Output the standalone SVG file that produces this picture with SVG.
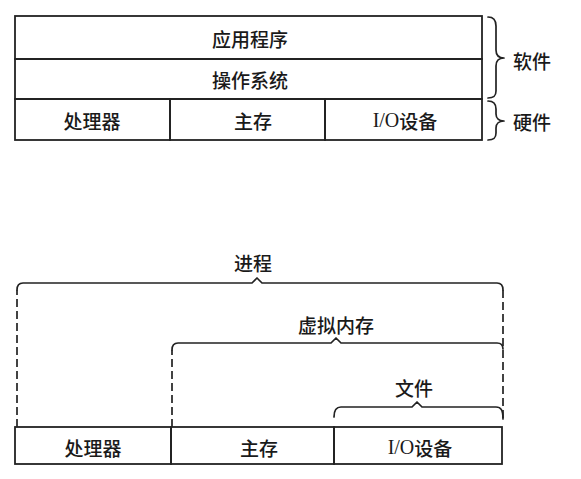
<svg xmlns="http://www.w3.org/2000/svg" width="581" height="479" viewBox="0 0 581 479">
<style>
.box{fill:none;stroke:#222;stroke-width:1.8}
.br{fill:none;stroke:#222;stroke-width:1.7;stroke-linecap:round;stroke-linejoin:round}
.dash{fill:none;stroke:#222;stroke-width:1.7;stroke-dasharray:8 4}
text{font-family:"Noto Sans CJK SC","Noto Sans",sans-serif;font-size:19px;font-weight:500;fill:#1a1a1a;text-anchor:middle;dominant-baseline:central}
.io{font-family:"Liberation Serif",serif;font-size:20px}
</style>
<rect width="581" height="479" fill="#fff"/>
<g id="top-stack">
  <g id="app"><rect class="box" x="15" y="16" width="467" height="43"/><text x="250" y="38">应用程序</text></g>
  <g id="os"><rect class="box" x="15" y="59" width="467" height="40"/><text x="250" y="79">操作系统</text></g>
  <g id="cpu1"><rect class="box" x="15" y="99" width="155" height="41"/><text x="92" y="120">处理器</text></g>
  <g id="mem1"><rect class="box" x="170" y="99" width="155" height="41"/><text x="253" y="120">主存</text></g>
  <g id="io1"><rect class="box" x="325" y="99" width="157" height="41"/><text x="405" y="120"><tspan class="io">I/O</tspan>设备</text></g>
  <g id="software"><path class="br" d="M488,17 C494,17 496,20 496,26 L496,50 C496,55 499,58 504,58 C499,58 496,61 496,66 L496,91 C496,96 494,98 488,98"/><text x="532" y="60">软件</text></g>
  <g id="hardware"><path class="br" d="M488,101 C494,101 496,104 496,109 L496,114 C496,118 499,121 504,121 C499,121 496,124 496,128 L496,133 C496,138 494,140 488,140"/><text x="532" y="121">硬件</text></g>
</g>
<g id="bottom-stack">
  <g id="cpu2"><rect class="box" x="15" y="427" width="156" height="37"/><text x="93" y="447">处理器</text></g>
  <g id="mem2"><rect class="box" x="171" y="427" width="163" height="37"/><text x="259" y="447">主存</text></g>
  <g id="io2"><rect class="box" x="334" y="427" width="168" height="37"/><text x="420" y="447"><tspan class="io">I/O</tspan>设备</text></g>
</g>
<g id="connectors">
  <g id="process">
    <path class="dash" d="M17,427 L17,290"/>
    <path class="br" d="M17,290 C17,285 19,283 23,283 L252,283 L257,278 L262,283 L497,283 C501,283 503,285 503,290"/>
    <path class="dash" d="M503,290 L503,418"/>
    <text x="253" y="262">进程</text>
  </g>
  <g id="vmem">
    <path class="dash" d="M172,427 L172,350"/>
    <path class="br" d="M172,350 C172,345 174,343 178,343 L331,343 L336,338 L341,343 L497,343 C501,343 503,345 503,349"/>
    <text x="336" y="324">虚拟内存</text>
  </g>
  <g id="file">
    <path class="br" d="M334,417 C334,410 336,407 341,407 L412,407 L417,402 L422,407 L496,407 C501,407 503,410 503,419"/>
    <text x="414" y="387">文件</text>
  </g>
</g>
</svg>
